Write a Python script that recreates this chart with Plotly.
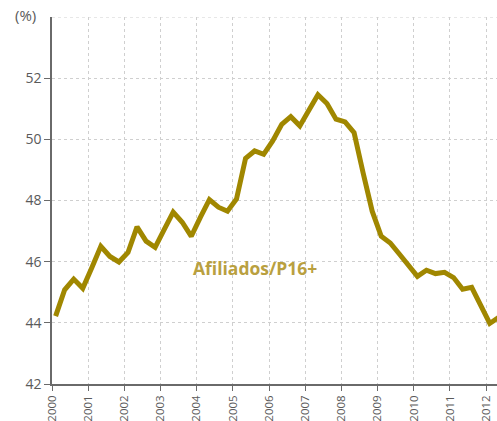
import plotly.graph_objects as go

# Quarterly data, 2000Q1 .. 2012Q2 (x = year + offset within year)
start_year = 2000
values = [
    44.22, 45.08, 45.43, 45.13,
    45.80, 46.50, 46.17, 45.99,
    46.30, 47.14, 46.67, 46.47,
    47.05, 47.62, 47.29, 46.83,
    47.45, 48.03, 47.78, 47.65,
    48.05, 49.38, 49.62, 49.51,
    49.95, 50.49, 50.74, 50.44,
    50.95, 51.46, 51.17, 50.66,
    50.57, 50.22, 48.90, 47.65,
    46.83, 46.61, 46.25, 45.90,
    45.52, 45.72, 45.61, 45.65,
    45.48, 45.10, 45.16, 44.57,
    43.98, 44.18,
]
x_vals = [start_year + 0.1 + 0.25 * i for i in range(len(values))]
year_ticks = list(range(2000, 2013))
y_ticks = [42, 44, 46, 48, 50, 52]
series_label = "Afiliados/P16+"

LINE = "#a08700"
LABEL = "#b9a040"
GRID = "#cfcfcf"
AXIS = "#6a6a6a"
TXT = "#5a5a5a"
FONT = "Open Sans"

fig = go.Figure()
fig.add_trace(go.Scatter(
    x=x_vals, y=values, mode="lines",
    line=dict(color=LINE, width=5, shape="linear"),
    hoverinfo="skip", showlegend=False,
))

fig.update_layout(
    template="none",
    width=497, height=421,
    margin=dict(l=52, r=0, t=17, b=37),
    paper_bgcolor="white", plot_bgcolor="white",
    font=dict(family=FONT, color=TXT),
    xaxis=dict(
        range=[2000, 2012.3],
        tickvals=year_ticks, ticktext=[str(y) for y in year_ticks],
        tickangle=-90,
        tickfont=dict(size=11.5, color=TXT, family=FONT),
        showgrid=True, gridcolor=GRID, griddash="dot", gridwidth=1,
        showline=True, linecolor=AXIS, linewidth=1.5,
        ticks="outside", ticklen=5, tickcolor=AXIS, tickwidth=1,
        zeroline=False, automargin=False,
    ),
    yaxis=dict(
        range=[42, 54],
        tickvals=y_ticks, ticktext=[str(v) for v in y_ticks],
        tickfont=dict(size=14, color=TXT, family=FONT),
        showgrid=True, gridcolor=GRID, griddash="dot", gridwidth=1,
        showline=True, linecolor=AXIS, linewidth=1.5,
        ticks="outside", ticklen=6, tickcolor=AXIS, tickwidth=1,
        zeroline=False, automargin=False,
    ),
    shapes=[dict(
        type="line", xref="paper", yref="y", x0=0, x1=1, y0=54, y1=54,
        line=dict(color=GRID, width=1, dash="dot"), layer="below",
    )],
    annotations=[
        dict(text="(%)", xref="paper", yref="paper", x=0, y=1,
             xanchor="right", yanchor="middle", xshift=-14, yshift=2,
             showarrow=False, font=dict(size=15, color=TXT, family=FONT)),
        dict(text="<b>" + series_label + "</b>", xref="x", yref="y",
             x=2003.83, y=45.8, xanchor="left", yanchor="middle",
             showarrow=False, font=dict(size=17.5, color=LABEL, family=FONT)),
    ],
)

fig.write_html(
    "out.html",
    config={"displayModeBar": False},
    post_script="document.body.style.margin='0';document.body.style.padding='0';"
                "document.body.style.overflow='hidden';",
)
